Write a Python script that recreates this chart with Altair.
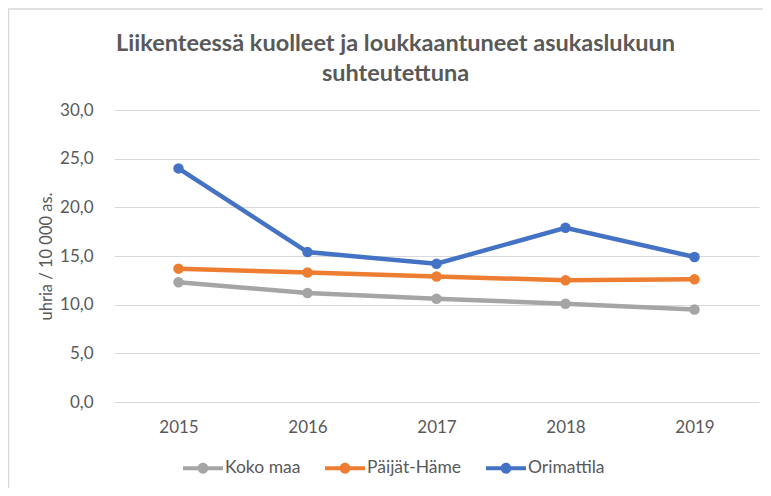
import altair as alt
import pandas as pd

years = ["2015", "2016", "2017", "2018", "2019"]
koko_maa = [12.3, 11.2, 10.6, 10.1, 9.5]
paijat_hame = [13.7, 13.3, 12.9, 12.5, 12.6]
orimattila = [24.0, 15.4, 14.2, 17.9, 14.9]
series = ["Koko maa", "Päijät-Häme", "Orimattila"]
colors = ["#A5A5A5", "#ED7D31", "#4472C4"]
y_ticks = [0, 5, 10, 15, 20, 25, 30]

rows = []
for name, vals in zip(series, [koko_maa, paijat_hame, orimattila]):
    for yr, v in zip(years, vals):
        rows.append({"year": yr, "series": name, "value": v})
df = pd.DataFrame(rows)

FONT = "Lato"
TXT = "#595959"
W, H = 645, 292

legend_path = ("M-1,-0.1H1V0.1H-1Z "
               "M0.27,0A0.27,0.27 0 1,1 -0.27,0A0.27,0.27 0 1,1 0.27,0Z")

color = alt.Color(
    "series:N",
    scale=alt.Scale(domain=series, range=colors),
    sort=series,
    legend=alt.Legend(
        title=None, orient="none", legendX=69, legendY=338,
        direction="horizontal", columns=3, columnPadding=24,
        symbolType=legend_path, symbolSize=1600, symbolStrokeWidth=0,
        labelFontSize=17.5, labelColor=TXT, labelFont=FONT, labelOffset=2,
    ),
)

base = alt.Chart(df).encode(
    x=alt.X("year:N", sort=years,
            scale=alt.Scale(padding=0.5),
            axis=alt.Axis(title=None, labelAngle=0, domain=False, ticks=False,
                          grid=False, labelFontSize=17, labelColor=TXT,
                          labelFont=FONT, labelPadding=17)),
    y=alt.Y("value:Q", scale=alt.Scale(domain=[0, 30]),
            axis=alt.Axis(values=y_ticks, title="uhria / 10 000 as.",
                          labelExpr="replace(format(datum.value, '.1f'), '.', ',')",
                          domain=False, ticks=False, grid=True,
                          gridColor="#D9D9D9", gridWidth=1,
                          labelFontSize=17, labelColor=TXT, labelFont=FONT,
                          labelPadding=21, titleFontSize=16.5,
                          titleFontWeight="normal", titleColor=TXT,
                          titleFont=FONT, titlePadding=5)),
    color=color,
)

lines = base.mark_line(strokeWidth=4.5)
points = base.mark_point(filled=True, size=110, opacity=1)

border = alt.Chart(pd.DataFrame({"a": [0]})).mark_rect(
    fill=None, stroke="#D9D9D9", strokeWidth=1.5
).encode(x=alt.value(-105.5), x2=alt.value(900), y=alt.value(-101), y2=alt.value(700))

chart = alt.layer(border, lines, points).properties(
    width=W, height=H,
    title=alt.Title(
        ["Liikenteessä kuolleet ja loukkaantuneet asukaslukuun", "suhteutettuna"],
        fontSize=23.5, font=FONT, fontWeight="bold", color=TXT,
        anchor="middle", dx=-41, offset=-77, lineHeight=30,
    ),
    autosize=alt.AutoSizeParams(type="none"),
    padding={"left": 106, "top": 102, "right": 4, "bottom": 86},
).configure_view(stroke=None)

chart.save("out.html", embed_options={"renderer": "svg", "actions": False})
